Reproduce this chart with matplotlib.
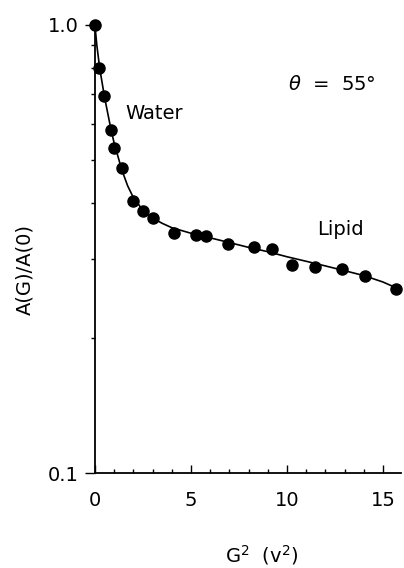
import matplotlib.pyplot as plt
from matplotlib.ticker import FixedLocator, NullFormatter

plt.rcParams['font.family'] = ['DejaVu Sans']
plt.rcParams['mathtext.fontset'] = 'dejavusans'

# measured echo amplitude vs squared gradient
g2 = [0.0, 0.23, 0.49, 0.83, 1.0, 1.43, 1.96, 2.52, 3.02, 4.11, 5.24, 5.81,
      6.94, 8.30, 9.22, 10.24, 11.47, 12.89, 14.04, 15.67]
amp = [1.0, 0.80, 0.695, 0.583, 0.531, 0.479, 0.405, 0.385, 0.371, 0.344, 0.340, 0.338,
       0.324, 0.319, 0.317, 0.292, 0.289, 0.286, 0.276, 0.257]

# fitted two-component curve
fit_g2 = [0.0, 0.1, 0.25, 0.5, 0.8, 1.0, 1.4, 1.7, 2.0, 2.5, 3.0, 3.5, 4.0, 5.0, 6.0, 7.0,
          8.0, 9.0, 10.0, 11.0, 12.0, 13.0, 14.0, 15.0, 15.7]
fit_amp = [1.0, 0.90, 0.80, 0.69, 0.595, 0.545, 0.475, 0.438, 0.412, 0.386, 0.371, 0.361,
           0.353, 0.343, 0.335, 0.327, 0.319, 0.312, 0.304, 0.297, 0.290, 0.283, 0.276,
           0.267, 0.259]

fig = plt.figure(figsize=(4.04, 5.68), dpi=100)
ax = fig.add_axes([0.235, 0.167, 0.758, 0.789])

ax.plot(fit_g2, fit_amp, color='black', lw=1.2, clip_on=False)
ax.plot(g2, amp, 'o', color='black', ms=8, clip_on=False)

ax.set_yscale('log')
ax.set_ylim(0.1, 1.0)
ax.set_xlim(0, 15.95)

ax.spines['top'].set_visible(False)
ax.spines['right'].set_visible(False)
for s in ('left', 'bottom'):
    ax.spines[s].set_linewidth(1.3)

ax.yaxis.set_major_locator(FixedLocator([0.1, 1.0]))
ax.yaxis.set_minor_locator(FixedLocator([0.2, 0.3, 0.4, 0.5, 0.6, 0.7, 0.8, 0.9]))
ax.yaxis.set_minor_formatter(NullFormatter())
ax.set_yticklabels(['0.1', '1.0'])
ax.tick_params(axis='y', which='major', direction='out', length=7, width=1, labelsize=14, pad=5)
ax.tick_params(axis='y', which='minor', direction='out', length=3, width=1)

ax.set_xticks([0, 5, 10, 15])
ax.xaxis.set_minor_locator(FixedLocator(range(1, 16)))
ax.tick_params(axis='x', which='major', direction='in', length=6, width=1, labelsize=14, pad=13)
ax.tick_params(axis='x', which='minor', direction='in', length=3, width=1)

fig.text(262 / 404, 1 - 555 / 568, 'G$^2$  (v$^2$)', fontsize=14, ha='center', va='center')
fig.text(25 / 404, 1 - 270 / 568, 'A(G)/A(0)', fontsize=14, ha='center', va='center',
         rotation=90)

ax.text(10.05, 0.735, r'$\theta$  =  55°', fontsize=14, va='center')
ax.text(1.56, 0.636, 'Water', fontsize=14, va='center')
ax.text(11.56, 0.349, 'Lipid', fontsize=14, va='center')

fig.savefig('out.png', dpi=100)
